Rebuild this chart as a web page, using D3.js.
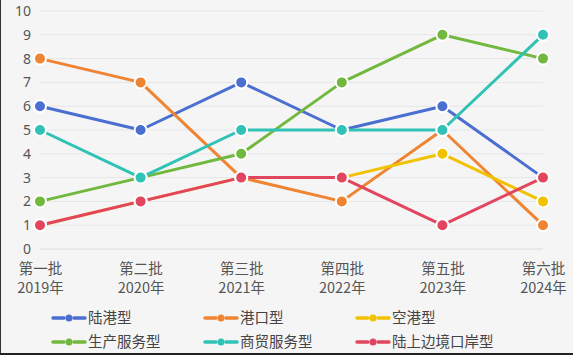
<!DOCTYPE html>
<html><head><meta charset="utf-8">
<script src="https://cdn.jsdelivr.net/npm/d3@7"></script>
<style>
html,body{margin:0;padding:0;background:#f5f5f5;}
svg{display:block;}
</style></head>
<body>
<script>
const categories = ["第一批|2019年","第二批|2020年","第三批|2021年","第四批|2022年","第五批|2023年","第六批|2024年"];
const seriesNames = ["陆港型","港口型","空港型","生产服务型","商贸服务型","陆上边境口岸型"];
const luGang = [6,5,7,5,6,3];
const gangKou = [8,7,3,2,5,1];
const kongGang = [1,2,3,3,4,2];
const shengChan = [2,3,4,7,9,8];
const shangMao = [5,3,5,5,5,9];
const bianJing = [1,2,3,3,1,3];
const yTicks = [0,1,2,3,4,5,6,7,8,9,10];
const colors = ["#4a6fd1","#ef8433","#f2c100","#72b83e","#2fc2b5","#e2465f"];
const seriesValues = [luGang,gangKou,kongGang,shengChan,shangMao,bianJing];

const W=573,H=355;
const svg=d3.select("body").append("svg").attr("width",W).attr("height",H);
svg.append("rect").attr("width",W).attr("height",H).attr("fill","#f5f5f5");

const x=d3.scalePoint().domain(categories).range([40,543]);
const y=d3.scaleLinear().domain([0,10]).range([249,11]);

svg.append("g").selectAll("line").data(yTicks).join("line")
 .attr("x1",40).attr("x2",543).attr("y1",d=>y(d)).attr("y2",d=>y(d))
 .attr("stroke",d=>d===0?"#dcdcdc":"#e6e6e6").attr("stroke-width",1);

const yAxis=d3.axisLeft(y).tickValues(yTicks).tickSize(0).tickPadding(0);
const ga=svg.append("g").attr("transform","translate(31,0)").call(yAxis);
ga.select(".domain").remove();
ga.selectAll("text").attr("font-family","Noto Sans, sans-serif").attr("font-size",14).attr("fill","#555");

const xAxis=d3.axisBottom(x).tickSize(0).tickFormat(()=>"");
const gx=svg.append("g").attr("transform","translate(0,249)").call(xAxis);
gx.select(".domain").remove();
gx.selectAll(".tick").each(function(d){
  const parts=d.split("|");
  const t=d3.select(this).append("text").attr("fill","#555")
   .attr("font-family","Noto Sans CJK SC, sans-serif").attr("font-size",14.5).attr("text-anchor","middle");
  t.append("tspan").attr("x",0).attr("y",25).text(parts[0]);
  t.append("tspan").attr("x",0).attr("y",44).text(parts[1]);
});

const line=d3.line().x((d,i)=>x(categories[i])).y(d=>y(d));
const order=[0,1,2,3,4,5];
order.forEach(si=>{
  svg.append("g").append("path").datum(seriesValues[si]).attr("d",line).attr("fill","none")
   .attr("stroke",colors[si]).attr("stroke-width",3).attr("stroke-linejoin","round");
});
order.forEach(si=>{
  svg.append("g").selectAll("circle").data(seriesValues[si]).join("circle")
   .attr("cx",(d,i)=>x(categories[i])).attr("cy",d=>y(d)).attr("r",6)
   .attr("fill",colors[si]).attr("stroke","#fff").attr("stroke-width",2);
});

const legX=[53,205,357], legY=[318,342];
seriesNames.forEach((n,i)=>{
  const lx=legX[i%3], ly=legY[Math.floor(i/3)];
  const g=svg.append("g").attr("transform",`translate(${lx},${ly})`);
  g.append("line").attr("x1",0).attr("x2",11).attr("y1",0).attr("y2",0).attr("stroke",colors[i]).attr("stroke-width",3.5).attr("stroke-linecap","round");
  g.append("line").attr("x1",21).attr("x2",32).attr("y1",0).attr("y2",0).attr("stroke",colors[i]).attr("stroke-width",3.5).attr("stroke-linecap","round");
  g.append("circle").attr("cx",16).attr("cy",0).attr("r",3.5).attr("fill",colors[i]);
  g.append("text").attr("x",35).attr("y",5).attr("font-family","Noto Sans CJK SC, sans-serif").attr("font-size",14.5).attr("fill","#444").text(n);
});

svg.append("line").attr("x1",0.5).attr("x2",0.5).attr("y1",0).attr("y2",H).attr("stroke","#333").attr("stroke-width",1);
svg.append("line").attr("x1",0).attr("x2",W).attr("y1",H-1).attr("y2",H-1).attr("stroke","#222").attr("stroke-width",2);
</script>
</body></html>
